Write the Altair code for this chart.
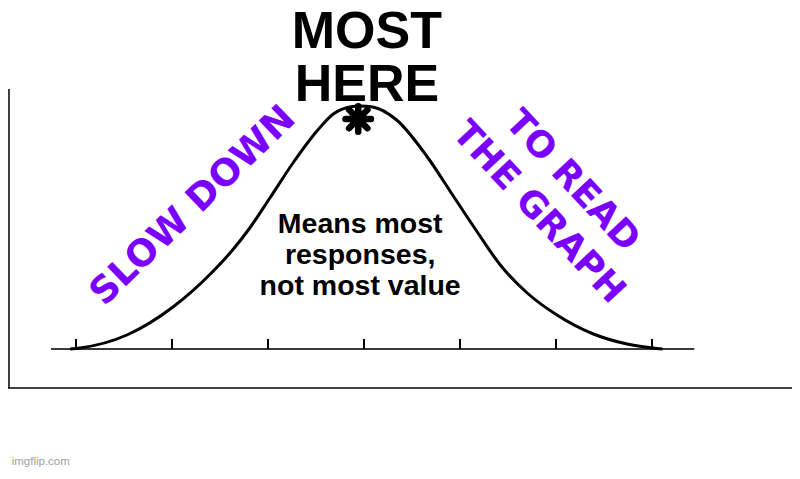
import altair as alt
import pandas as pd

# ---- data (x in standard-deviation units, y in "responses") ----
curve_x = [-3.06, -2.96, -2.47, -1.99, -1.60, -1.36, -1.19, -0.98, -0.74, -0.49, -0.32,
           -0.15, -0.04, 0.09, 0.34, 0.66, 0.93, 1.18, 1.42, 1.70, 2.01, 2.39, 2.74, 3.01, 3.11]
curve_y = [0, 1, 14, 42, 75, 100, 121, 151, 186, 218, 235,
           242, 243, 242, 229, 192, 153, 117, 84, 56, 34, 15, 5, 1, 0]

tick_values = [-3, -2, -1, 0, 1, 2, 3]
tick_len = 10
baseline_x = [-3.26, 3.44]

frame_left_x = -3.698
frame_left_y = [260, -39]
frame_bottom_y = -39

titles = ["MOST\nHERE"]
title_pos = [(0.03, 301)]
note = ["Means most\nresponses,\nnot most value"]
note_pos = [(-0.04, 116)]
left_slogan = ["SLOW DOWN"]
left_pos = [(-1.78, 143)]
right_slogan = ["TO READ\nTHE GRAPH"]
right_pos = [(2.17, 168)]
star_pos = [(-0.06, 230)]
watermark = ["imgflip.com"]
watermark_pos = [(-3.67, -113)]

XDOM = [-3.708333, 4.458333]
YDOM = [-122, 341]
xs = alt.Scale(domain=XDOM, zero=False, nice=False)
ys = alt.Scale(domain=YDOM, zero=False, nice=False)

def X(f="x"):
    return alt.X(f"{f}:Q", scale=xs, axis=None)

def Y(f="y"):
    return alt.Y(f"{f}:Q", scale=ys, axis=None)

curve_df = pd.DataFrame({"x": curve_x, "y": curve_y})
curve = alt.Chart(curve_df).mark_line(
    interpolate="monotone", color="black", strokeWidth=3
).encode(x=X(), y=Y())

base_df = pd.DataFrame({"x": [baseline_x[0]], "x2": [baseline_x[1]], "y": [0]})
baseline = alt.Chart(base_df).mark_rule(color="#3a3a3a", strokeWidth=2).encode(
    x=X(), x2="x2:Q", y=Y()
)

ticks_df = pd.DataFrame({"x": tick_values, "y": [0] * len(tick_values),
                         "y2": [tick_len] * len(tick_values)})
ticks = alt.Chart(ticks_df).mark_rule(color="black", strokeWidth=2).encode(
    x=X(), y=Y(), y2="y2:Q"
)

fl_df = pd.DataFrame({"x": [frame_left_x], "y": [frame_left_y[0]], "y2": [frame_left_y[1]]})
frame_left = alt.Chart(fl_df).mark_rule(color="black", strokeWidth=1.5).encode(
    x=X(), y=Y(), y2="y2:Q"
)
fb_df = pd.DataFrame({"x": [XDOM[0]], "x2": [XDOM[1]], "y": [frame_bottom_y]})
frame_bottom = alt.Chart(fb_df).mark_rule(color="black", strokeWidth=1.5).encode(
    x=X(), x2="x2:Q", y=Y()
)

def text_df(texts, pos):
    return pd.DataFrame({"t": texts, "x": [p[0] for p in pos], "y": [p[1] for p in pos]})

title = alt.Chart(text_df(titles, title_pos)).mark_text(
    font="Liberation Sans", fontWeight="bold", fontSize=52, lineHeight=53,
    lineBreak="\n", align="center", baseline="alphabetic", color="black"
).encode(x=X(), y=Y(), text="t:N")

note_t = alt.Chart(text_df(note, note_pos)).mark_text(
    font="Liberation Sans", fontWeight="bold", fontSize=28.5, lineHeight=31,
    lineBreak="\n", align="center", baseline="alphabetic", color="black"
).encode(x=X(), y=Y(), text="t:N")

left_t = alt.Chart(text_df(left_slogan, left_pos)).mark_text(
    font="DejaVu Sans", fontWeight="bold", fontSize=37, angle=316,
    align="center", baseline="middle", color="#7a00ff"
).encode(x=X(), y=Y(), text="t:N")

right_t = alt.Chart(text_df(right_slogan, right_pos)).mark_text(
    font="DejaVu Sans", fontWeight="bold", fontSize=36, lineHeight=46, angle=47,
    lineBreak="\n", align="center", baseline="middle", color="#7a00ff"
).encode(x=X(), y=Y(), text="t:N")

star_df = pd.DataFrame({"x": [p[0] for p in star_pos], "y": [p[1] for p in star_pos]})
star = alt.Chart(star_df).mark_point(
    shape="M0,-1L0,1M-1,0L1,0M-0.72,-0.72L0.72,0.72M-0.72,0.72L0.72,-0.72",
    size=650, filled=False, stroke="black", strokeWidth=6.5, strokeCap="round", opacity=1
).encode(x=X(), y=Y())
star_core = alt.Chart(star_df).mark_point(
    shape="circle", size=220, filled=True, color="black", opacity=1
).encode(x=X(), y=Y())

wm = alt.Chart(text_df(watermark, watermark_pos)).mark_text(
    font="Liberation Sans", fontSize=11.5, align="left", baseline="middle", color="#a0a0a0"
).encode(x=X(), y=Y(), text="t:N")

chart = alt.layer(
    frame_left, frame_bottom, baseline, ticks, curve, star, star_core,
    title, note_t, left_t, right_t, wm
).properties(
    width=784, height=463,
    autosize=alt.AutoSizeParams(type="none"),
    padding=0,
    background="white",
).configure_view(stroke=None)

chart.save("out.html", embed_options={"renderer": "svg", "actions": False})
